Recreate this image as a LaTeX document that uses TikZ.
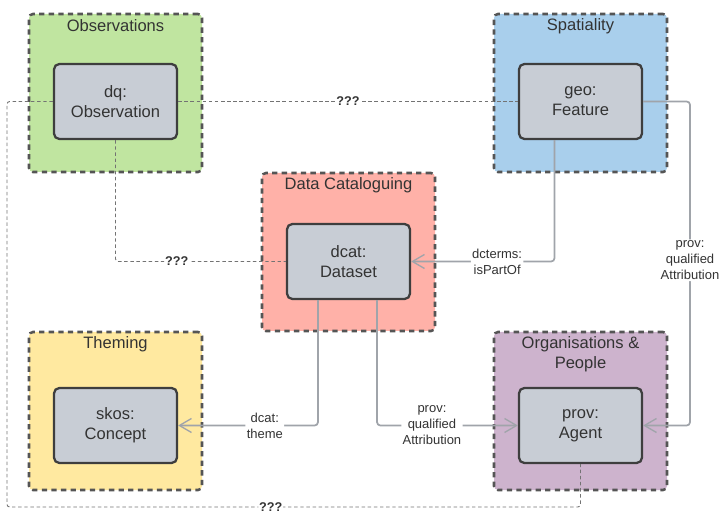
\documentclass[tikz,border=0pt]{standalone}
\usepackage{fontspec}
\setmainfont{Liberation Sans}
\usetikzlibrary{arrows.meta}
\definecolor{obsgreen}{HTML}{C0E5A0}
\definecolor{spablue}{HTML}{A9CFEC}
\definecolor{catred}{HTML}{FFB1A8}
\definecolor{theyellow}{HTML}{FFE9A0}
\definecolor{orgpurple}{HTML}{CDB3CD}
\definecolor{clsfill}{HTML}{C8CDD5}
\definecolor{clsline}{HTML}{3E3E3E}
\definecolor{grpline}{HTML}{555555}
\definecolor{relgray}{HTML}{A0A4AA}
\definecolor{txt}{HTML}{333333}
\tikzset{%
  grp/.style={draw=grpline,line width=1.9pt,dash pattern=on 4pt off 3.2pt,rounded corners=3pt,minimum width=129.75pt,minimum height=118.5pt,inner sep=0},
  cls/.style={draw=clsline,line width=1.7pt,fill=clsfill,rounded corners=4pt,minimum width=92.25pt,minimum height=56.25pt,align=center,text=txt,font=\fontsize{12.4}{15}\selectfont},
  ttl/.style={align=center,text=txt,font=\fontsize{12.4}{15}\selectfont},
  rel/.style={draw=relgray,line width=1.3pt,rounded corners=2.5pt,-{Straight Barb[length=9pt,width=10.5pt,line width=1pt]}},
  unk/.style={draw=black!55,line width=0.7pt,dash pattern=on 2.6pt off 2pt,rounded corners=2pt},
  rlab/.style={fill=white,inner sep=1pt,align=center,text=txt,font=\fontsize{9.75}{12}\selectfont},
  qlab/.style={fill=white,inner sep=0.6pt,text=txt,font=\bfseries\fontsize{9.5}{11}\selectfont}
}
\begin{document}
\begin{tikzpicture}[x=0.75pt,y=-0.75pt]
  \useasboundingbox (0,0) rectangle (724,516);
  \path
    (115.5,93) node (gobs)[grp,fill=obsgreen]{}
    (580.5,93) node (gspa)[grp,fill=spablue]{}
    (348.5,252) node (gcat)[grp,fill=catred]{}
    (115.5,411) node (gthe)[grp,fill=theyellow]{}
    (580.5,411) node (gorg)[grp,fill=orgpurple]{};
  \path
    (115.5,26) node (tobs)[ttl]{Observations}
    (580.5,26) node (tspa)[ttl]{Spatiality}
    (348.5,185) node (tcat)[ttl]{Data Cataloguing}
    (115.5,344) node (tthe)[ttl]{Theming}
    (580.5,354) node (torg)[ttl]{Organisations \&\\People};
  \path
    (115.5,101.5) node (obs)[cls]{dq:\\Observation}
    (580.5,101.5) node (feat)[cls]{geo:\\Feature}
    (348.5,261.5) node (dset)[cls]{dcat:\\Dataset}
    (115.5,425.5) node (concept)[cls]{skos:\\Concept}
    (580.5,425.5) node (agent)[cls]{prov:\\Agent};
  \coordinate (lo) at (7,507);
  \coordinate (ro) at (690,101.5);
  \draw[unk] (obs.west) -| (lo) -- node[qlab,pos=0.46]{???} (agent.south |- lo) -- (agent.south);
  \draw[unk] (obs.east) -- node[qlab]{???} (feat.west);
  \draw[unk] (obs.south) -- (obs.south |- dset.west) -- node[qlab,pos=0.36]{???} (dset.west);
  \draw[rel] ([xshift=-19.5pt]feat.south) -- ([xshift=-19.5pt]feat.south |- dset.east) -- node[rlab,pos=0.4]{dcterms:\\isPartOf} (dset.east);
  \draw[rel] (feat.east) -- (ro) -- node[rlab,pos=0.49]{prov:\\qualified\\Attribution} (ro |- agent.east) -- (agent.east);
  \draw[rel] ([xshift=-22.9pt]dset.south) -- ([xshift=-22.9pt]dset.south |- concept.east) -- node[rlab,pos=0.38]{dcat:\\theme} (concept.east);
  \draw[rel] ([xshift=21.4pt]dset.south) -- ([xshift=21.4pt]dset.south |- agent.west) -- node[rlab,pos=0.39]{prov:\\qualified\\Attribution} (agent.west);
\end{tikzpicture}
\end{document}
